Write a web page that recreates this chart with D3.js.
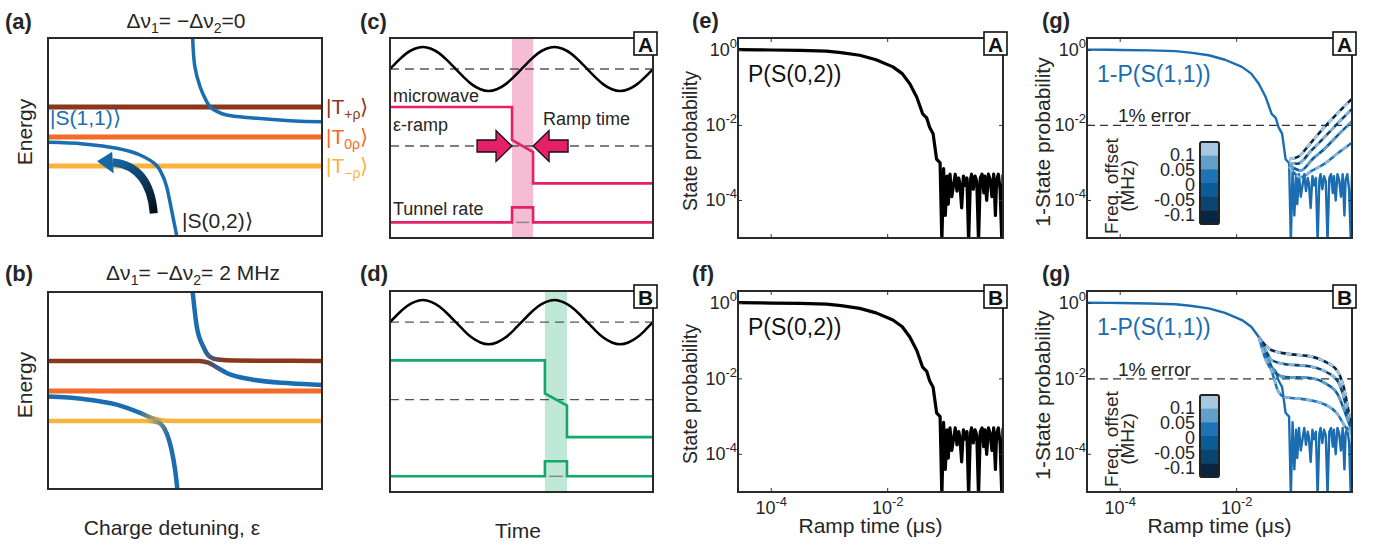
<!DOCTYPE html>
<html><head><meta charset="utf-8">
<script src="https://cdn.jsdelivr.net/npm/d3@7"></script>
<style>body{margin:0;background:#fff}svg text{font-family:"Liberation Sans",Arial,Helvetica,sans-serif}</style>
</head><body><svg id="c" width="1378" height="546"></svg>
<script>
// ---------------- DATA ----------------
// (a)/(b) energy diagram (x: detuning 0..1, y: energy 0..1)
const levelLabels = [["|T","+ρ","⟩"],["|T","0ρ","⟩"],["|T","−ρ","⟩"]];
const levelColors = ["#8a371b","#f26b27","#fbb33c"];
const levelsA = [0.652, 0.500, 0.354];
const levelsB = [0.650, 0.497, 0.345];
const upperBranchA = [[0.528,1.0],[0.536,0.855],[0.555,0.754],[0.575,0.69],[0.591,0.653],[0.62,0.627],[0.652,0.611],[0.748,0.596],[0.883,0.582],[1.0,0.577]];
const lowerBranchA = [[0,0.473],[0.129,0.465],[0.251,0.443],[0.336,0.409],[0.397,0.355],[0.42,0.30],[0.433,0.249],[0.451,0.131],[0.470,0.0]];
const upperBlueToBrownB = [[0.528,1.0],[0.543,0.824],[0.567,0.722],[0.59,0.672],[0.62,0.657],[0.68,0.652],[1.0,0.650]];
const brownToBlueB = [[0,0.650],[0.55,0.650],[0.585,0.641],[0.62,0.614],[0.652,0.589],[0.748,0.555],[0.883,0.537],[1.0,0.528]];
const blueToYellowB = [[0,0.469],[0.129,0.457],[0.251,0.428],[0.336,0.386],[0.38,0.360],[0.42,0.348],[0.5,0.345],[1,0.345]];
const yellowToBlueB = [[0,0.345],[0.36,0.345],[0.40,0.338],[0.425,0.305],[0.44,0.255],[0.451,0.198],[0.464,0.096],[0.472,0]];
const arrowShaft = [[0.386,0.114],[0.372,0.352],[0.236,0.372]];
const arrowHead = [[0.179,0.378],[0.234,0.426],[0.240,0.316]];
// (c)/(d) pulse schematic
const mwSamples = [0,.38,.71,.92,1,.92,.71,.38,0,-.38,-.71,-.92,-1,-.92,-.71,-.38,0,.38,.71,.92,1,.92,.71,.38,0,-.38,-.71,-.92,-1,-.92,-.71,-.38,0];
const mwMid = 0.845, mwAmp = 0.11;
const rampLevels = [0.655, 0.49, 0.43, 0.273];
const rampDash = 0.46;
const tunnelLevels = [0.078, 0.153];
const bandC = [0.464, 0.544];
const bandD = [0.589, 0.673];
// (e)-(g) ramp-time data, log10 values
const declineLogT = [-4.57,-4.2,-4.0,-3.5,-3.05,-2.8,-2.48,-2.2,-1.91,-1.75,-1.62,-1.50,-1.40,-1.33,-1.28,-1.22,-1.16];
const declineLogP = [0.02,0.015,0.01,0.0,-0.02,-0.06,-0.13,-0.25,-0.44,-0.62,-0.89,-1.25,-1.69,-1.80,-2.05,-2.22,-2.9];
const noiseLogT = [-1.10,-1.07,-1.04,-1.01,-0.98,-0.96,-0.93,-0.90,-0.87,-0.84,-0.81,-0.78,-0.76,-0.73,-0.70,-0.67,-0.64,-0.61,-0.58,-0.56,-0.53,-0.50,-0.47,-0.44,-0.41,-0.38,-0.35,-0.33,-0.30,-0.27,-0.24,-0.21,-0.18,-0.15,-0.13,-0.10,-0.07,-0.04,-0.02];
const noiseLogP = [-3.0,-5.1,-3.15,-4.4,-3.35,-4.1,-3.3,-3.9,-3.6,-3.3,-3.75,-3.4,-3.55,-4.2,-3.35,-3.6,-3.4,-5.1,-3.45,-3.3,-3.7,-3.35,-3.5,-5.1,-3.4,-3.3,-3.8,-3.35,-4.0,-3.3,-3.45,-3.9,-3.3,-4.4,-3.45,-3.3,-3.7,-5.1,-3.3];
const offsetCurvesA = [
  [[-1.10,-2.9],[-0.95,-2.84],[-0.72,-2.45],[-0.49,-2.04],[-0.27,-1.68],[-0.02,-1.29]],
  [[-1.10,-3.0],[-0.95,-3.02],[-0.72,-2.67],[-0.49,-2.31],[-0.27,-1.95],[-0.02,-1.56]],
  [[-1.10,-3.05],[-0.90,-3.2],[-0.70,-2.9],[-0.49,-2.62],[-0.27,-2.27],[-0.02,-1.89]],
  [[-1.10,-3.1],[-0.90,-3.38],[-0.70,-3.2],[-0.49,-3.02],[-0.27,-2.75],[-0.02,-2.46]]
];
const offsetCurvesB = [
  [[-1.62,-0.89],[-1.50,-1.12],[-1.40,-1.24],[-1.06,-1.35],[-0.78,-1.39],[-0.50,-1.53],[-0.27,-1.79],[-0.16,-2.23],[-0.07,-2.93],[-0.02,-3.3]],
  [[-1.62,-0.89],[-1.50,-1.25],[-1.40,-1.50],[-1.17,-1.61],[-0.78,-1.66],[-0.50,-1.79],[-0.27,-2.05],[-0.13,-2.67],[-0.07,-3.1],[-0.02,-3.35]],
  [[-1.62,-0.89],[-1.50,-1.35],[-1.34,-1.83],[-1.17,-1.95],[-0.78,-1.97],[-0.50,-2.10],[-0.27,-2.40],[-0.13,-2.93],[-0.02,-3.4]],
  [[-1.62,-0.89],[-1.50,-1.50],[-1.40,-1.79],[-1.29,-2.32],[-1.17,-2.49],[-0.89,-2.53],[-0.50,-2.67],[-0.27,-2.93],[-0.13,-3.28],[-0.02,-3.46]]
];
const offsetPairColors = [["#08263f","#a6c8e1"],["#0a4572","#8ab6d9"],["#0b5d99","#62a0cc"],["#1d73b3","#8ab6d9"]];
const cbColors = ["#a6c8e1","#62a0cc","#1d73b3","#0b5d99","#0a4572","#08263f"];
const cbLabels = ["0.1","0.05","0","-0.05","-0.1"];
const yTickExps = [0,-2,-4];
const xTickExps = [-4,-2];
const errorLevel = 0.01;

// ---------------- DRAW ----------------
const svg = d3.select("#c");
const TXT = "#262626";
const blue = "#1a6db0";
const defs = svg.append("defs");

function frame(x0,y0,x1,y1){
  svg.append("rect").attr("x",x0).attr("y",y0).attr("width",x1-x0).attr("height",y1-y0)
    .attr("fill","none").attr("stroke","#2a2a2a").attr("stroke-width",2);
}
function panelLabel(x,y,t){
  svg.append("text").attr("x",x).attr("y",y).attr("font-size",22).attr("font-weight","bold").attr("fill",TXT).text(t);
}
function letterBox(xr,yt,t){
  svg.append("rect").attr("x",xr-19).attr("y",yt-6).attr("width",23).attr("height",23)
    .attr("fill","#fff").attr("stroke","#111").attr("stroke-width",1.6);
  svg.append("text").attr("x",xr-7.5).attr("y",yt+14).attr("text-anchor","middle")
    .attr("font-size",21).attr("font-weight","bold").attr("fill","#111").text(t);
}
function rotLabel(x,y,t,size){
  svg.append("text").attr("transform",`translate(${x},${y}) rotate(-90)`).attr("text-anchor","middle")
    .attr("font-size",size||21).attr("fill",TXT).text(t);
}
let gid=0;
function gradPath(g, pts, sx, sy, cA, cB, xa, xb, width){
  const id="g"+(gid++);
  const lg=defs.append("linearGradient").attr("id",id).attr("gradientUnits","userSpaceOnUse")
    .attr("x1",sx(xa)).attr("x2",sx(xb)).attr("y1",0).attr("y2",0);
  lg.append("stop").attr("offset",0).attr("stop-color",cA);
  lg.append("stop").attr("offset",1).attr("stop-color",cB);
  const line=d3.line().x(d=>sx(d[0])).y(d=>sy(d[1])).curve(d3.curveMonotoneX);
  g.append("path").attr("d",line(pts)).attr("fill","none").attr("stroke",`url(#${id})`).attr("stroke-width",width).attr("stroke-linecap","butt");
}
function titleText(x,y,parts){
  const t=svg.append("text").attr("x",x).attr("y",y).attr("text-anchor","middle").attr("font-size",21).attr("fill",TXT);
  let shift=0;
  parts.forEach(p=>{
    if(p.sub){ t.append("tspan").attr("font-size",14).attr("dy",5-shift).text(p.sub); shift=5; }
    else { t.append("tspan").attr("dy",-shift).text(p.t); shift=0; }
  });
}

// ---- (a) and (b)
const xE = d3.scaleLinear().domain([0,1]).range([48,322]);
const yEa = d3.scaleLinear().domain([0,1]).range([236,38]);
const yEb = d3.scaleLinear().domain([0,1]).range([489,292]);
const lineE = (sy)=>d3.line().x(d=>xE(d[0])).y(d=>sy(d[1])).curve(d3.curveCatmullRom);

// (a)
const ga = svg.append("g");
levelsA.forEach((l,i)=>{
  ga.append("line").attr("x1",xE(0)).attr("x2",xE(1)).attr("y1",yEa(l)).attr("y2",yEa(l))
    .attr("stroke",levelColors[i]).attr("stroke-width",5);
  const t=svg.append("text").attr("x",xE(1)+4).attr("y",yEa(l)+7).attr("font-size",21).attr("fill",levelColors[i]);
  t.append("tspan").text(levelLabels[i][0]);
  t.append("tspan").attr("font-size",14).attr("dy",5).text(levelLabels[i][1]);
  t.append("tspan").attr("dy",-5).text(levelLabels[i][2]);
});
[upperBranchA, lowerBranchA].forEach(b=>{
  ga.append("path").attr("d",lineE(yEa)(b)).attr("fill","none").attr("stroke",blue).attr("stroke-width",3.5);
});
// arrow
{
  const id="arrG";
  const p0=arrowShaft[0], p2=arrowShaft[2];
  const lg=defs.append("linearGradient").attr("id",id).attr("gradientUnits","userSpaceOnUse")
    .attr("x1",xE(p0[0])).attr("y1",yEa(p0[1])).attr("x2",xE(p2[0])).attr("y2",yEa(p2[1]));
  lg.append("stop").attr("offset",0).attr("stop-color","#050e18");
  lg.append("stop").attr("offset",1).attr("stop-color","#1766a6");
  const p1=arrowShaft[1];
  ga.append("path").attr("d",`M${xE(p0[0])},${yEa(p0[1])} Q${xE(p1[0])},${yEa(p1[1])} ${xE(p2[0])},${yEa(p2[1])}`)
    .attr("fill","none").attr("stroke",`url(#${id})`).attr("stroke-width",8);
  ga.append("polygon").attr("points",arrowHead.map(d=>[xE(d[0]),yEa(d[1])].join(",")).join(" ")).attr("fill","#1766a6");
}
svg.append("text").attr("x",50).attr("y",125).attr("font-size",21).attr("fill",blue).text("|S(1,1)⟩");
svg.append("text").attr("x",182).attr("y",228).attr("font-size",21).attr("fill",TXT).text("|S(0,2)⟩");
frame(48,38,322,236);
titleText(186,28,[{t:"Δν"},{sub:"1"},{t:"= −Δν"},{sub:"2"},{t:"=0"}]);
panelLabel(5,29,"(a)");
rotLabel(32,132,"Energy");

// (b)
const gb = svg.append("g");
gb.append("line").attr("x1",xE(0)).attr("x2",xE(1)).attr("y1",yEb(levelsB[1])).attr("y2",yEb(levelsB[1]))
  .attr("stroke",levelColors[1]).attr("stroke-width",5);
gradPath(gb, brownToBlueB, xE, yEb, levelColors[0], blue, 0.56, 0.64, 4.5);
gradPath(gb, upperBlueToBrownB, xE, yEb, blue, levelColors[0], 0.565, 0.64, 4.5);
gradPath(gb, blueToYellowB, xE, yEb, blue, levelColors[2], 0.33, 0.42, 4.5);
gradPath(gb, yellowToBlueB, xE, yEb, levelColors[2], blue, 0.36, 0.44, 4.5);
frame(48,292,322,489);
titleText(193,280,[{t:"Δν"},{sub:"1"},{t:"= −Δν"},{sub:"2"},{t:"= 2 MHz"}]);
panelLabel(5,281,"(b)");
rotLabel(32,385,"Energy");
svg.append("text").attr("x",172).attr("y",535).attr("text-anchor","middle").attr("font-size",21).attr("fill",TXT).text("Charge detuning, ε");

// ---- (c) and (d)
const xT = d3.scaleLinear().domain([0,1]).range([390,653]);
const xMw = d3.scaleLinear().domain([0,mwSamples.length-1]).range([390,653]);
function pulsePanel(sy, band, col, bandCol, y0, y1, letter, withText){
  const g=svg.append("g");
  g.append("rect").attr("x",xT(band[0])).attr("y",y0).attr("width",xT(band[1])-xT(band[0])).attr("height",y1-y0).attr("fill",bandCol);
  [mwMid, rampDash].forEach(v=>{
    g.append("line").attr("x1",xT(0)).attr("x2",xT(1)).attr("y1",sy(v)).attr("y2",sy(v))
      .attr("stroke","#555").attr("stroke-width",1.3).attr("stroke-dasharray","9,6");
  });
  g.append("line").attr("x1",xT(band[0])+4).attr("x2",xT(band[1])-4).attr("y1",sy(tunnelLevels[0])).attr("y2",sy(tunnelLevels[0]))
    .attr("stroke","#888").attr("stroke-width",1.5);
  const mwLine=d3.line().x((d,i)=>xMw(i)).y(d=>sy(mwMid+mwAmp*d)).curve(d3.curveNatural);
  g.append("path").attr("d",mwLine(mwSamples)).attr("fill","none").attr("stroke","#000").attr("stroke-width",2.5);
  const ramp=[[0,rampLevels[0]],[band[0],rampLevels[0]],[band[0],rampLevels[1]],[band[1],rampLevels[2]],[band[1],rampLevels[3]],[1,rampLevels[3]]];
  const tun=[[0,tunnelLevels[0]],[band[0],tunnelLevels[0]],[band[0],tunnelLevels[1]],[band[1],tunnelLevels[1]],[band[1],tunnelLevels[0]],[1,tunnelLevels[0]]];
  const ln=d3.line().x(d=>xT(d[0])).y(d=>sy(d[1]));
  [ramp,tun].forEach(p=>g.append("path").attr("d",ln(p)).attr("fill","none").attr("stroke",col).attr("stroke-width",2.6));
  if(withText){
    const tx=(t,x,y)=>svg.append("text").attr("x",x).attr("y",y).attr("font-size",18).attr("fill",TXT).text(t);
    tx("microwave",393,102); tx("ε-ramp",393,131); tx("Ramp time",543,125); tx("Tunnel rate",393,215);
    const ty=sy(rampDash);
    const L=xT(band[0]), R=xT(band[1]);
    const right=[[L,ty],[L-16,ty-15.5],[L-16,ty-6],[L-35,ty-6],[L-35,ty+6],[L-16,ty+6],[L-16,ty+15.5]];
    const left=[[R,ty],[R+16,ty-15.5],[R+16,ty-6],[R+35,ty-6],[R+35,ty+6],[R+16,ty+6],[R+16,ty+15.5]];
    [right,left].forEach(p=>svg.append("polygon").attr("points",p.map(d=>d.join(",")).join(" "))
      .attr("fill","#e61f69").attr("stroke","#111").attr("stroke-width",1.3).attr("stroke-linejoin","miter"));
  }
  frame(390,y0,653,y1);
  letterBox(653,y0,letter);
}
pulsePanel(d3.scaleLinear().domain([0,1]).range([238,38]), bandC, "#e61f69", "#f5bcd4", 38, 238, "A", true);
pulsePanel(d3.scaleLinear().domain([0,1]).range([492,291]), bandD, "#14a86a", "#bfe8d6", 291, 492, "B", false);
panelLabel(360,29,"(c)");
panelLabel(360,281,"(d)");
svg.append("text").attr("x",518).attr("y",538).attr("text-anchor","middle").attr("font-size",21).attr("fill",TXT).text("Time");

// ---- (e),(f),(g)
const mainSeries = declineLogT.map((t,i)=>[t,declineLogP[i]]).concat(noiseLogT.map((t,i)=>[t,noiseLogP[i]]));
function pow10Label(sel, exp){
  sel.append("tspan").text("10");
  sel.append("tspan").attr("dy",-8).attr("font-size",13).text(exp);
}
function logPanel(x0,x1,y0,y1,opts){
  const sx=d3.scaleLog().domain([Math.pow(10,-4.57),Math.pow(10,-0.02)]).range([x0,x1]);
  const sy=d3.scaleLog().domain([1e-5,Math.pow(10,0.33)]).range([y1,y0]);
  const cid="clip"+(gid++);
  defs.append("clipPath").attr("id",cid).append("rect").attr("x",x0).attr("y",y0).attr("width",x1-x0).attr("height",y1-y0);
  const g=svg.append("g");
  const pg=g.append("g").attr("clip-path",`url(#${cid})`);
  const ln=d3.line().x(d=>sx(Math.pow(10,d[0]))).y(d=>sy(Math.pow(10,d[1])));
  if(opts.error){
    pg.append("line").attr("x1",x0).attr("x2",x1).attr("y1",sy(errorLevel)).attr("y2",sy(errorLevel))
      .attr("stroke","#333").attr("stroke-width",1.2).attr("stroke-dasharray","8,5");
  }
  pg.append("path").attr("d",ln(mainSeries)).attr("fill","none").attr("stroke",opts.color).attr("stroke-width",opts.width).attr("stroke-linejoin","round");
  if(opts.curves){
    const lc=d3.line().x(d=>sx(Math.pow(10,d[0]))).y(d=>sy(Math.pow(10,d[1]))).curve(d3.curveMonotoneX);
    opts.curves.forEach((c,i)=>{
      pg.append("path").attr("d",lc(c)).attr("fill","none").attr("stroke",offsetPairColors[i][0]).attr("stroke-width",2.6);
      pg.append("path").attr("d",lc(c)).attr("fill","none").attr("stroke",offsetPairColors[i][1]).attr("stroke-width",2.6).attr("stroke-dasharray","6,5");
    });
  }
  yTickExps.forEach(e=>{
    const y=sy(Math.pow(10,e));
    g.append("line").attr("x1",x0).attr("x2",x0+4).attr("y1",y).attr("y2",y).attr("stroke","#333");
    g.append("line").attr("x1",x1).attr("x2",x1-4).attr("y1",y).attr("y2",y).attr("stroke","#333");
    const t=g.append("text").attr("x",x0-1).attr("y",y+6).attr("text-anchor","end").attr("font-size",18).attr("fill",TXT);
    pow10Label(t,String(e));
  });
  xTickExps.forEach(e=>{
    const x=sx(Math.pow(10,e));
    g.append("line").attr("x1",x).attr("x2",x).attr("y1",y1).attr("y2",y1-4).attr("stroke","#333");
    g.append("line").attr("x1",x).attr("x2",x).attr("y1",y0).attr("y2",y0+4).attr("stroke","#333");
    if(opts.xlabels){
      const t=g.append("text").attr("x",x).attr("y",y1+22).attr("text-anchor","middle").attr("font-size",18).attr("fill",TXT);
      pow10Label(t,String(e));
    }
  });
  frame(x0,y0,x1,y1);
  letterBox(x1,y0,opts.letter);
  svg.append("text").attr("x",x0+10).attr("y",y0+44).attr("font-size",23).attr("fill",opts.color==="#000"?"#111":blue).text(opts.name);
  if(opts.error){
    svg.append("text").attr("x",x0+31).attr("y",sy(errorLevel)-3).attr("font-size",19).attr("fill",TXT).text("1% error");
    const cbx=x0+113, cby=y0+104, cbw=19, cbh=82;
    const seg=cbh/cbColors.length;
    cbColors.forEach((c,i)=>svg.append("rect").attr("x",cbx).attr("y",cby+i*seg).attr("width",cbw).attr("height",seg+0.5).attr("fill",c));
    svg.append("rect").attr("x",cbx).attr("y",cby).attr("width",cbw).attr("height",cbh).attr("rx",2)
      .attr("fill","none").attr("stroke","#222").attr("stroke-width",2);
    const ly=d3.scalePoint().domain(cbLabels).range([cby+19,cby+79]);
    cbLabels.forEach(l=>svg.append("text").attr("x",cbx-5).attr("y",ly(l)).attr("text-anchor","end").attr("font-size",18).attr("fill",TXT).text(l));
    rotLabel(x0+31,cby+44,"Freq. offset",19);
    rotLabel(x0+47,cby+44,"(MHz)",19);
  }
  if(opts.xlabels){
    svg.append("text").attr("x",(x0+x1)/2).attr("y",y1+41).attr("text-anchor","middle").attr("font-size",21).attr("fill",TXT).text("Ramp time (μs)");
  }
}
logPanel(738,1003,38,238,{color:"#000",width:3.2,letter:"A",name:"P(S(0,2))"});
logPanel(738,1003,291,492,{color:"#000",width:3.2,letter:"B",name:"P(S(0,2))",xlabels:true});
logPanel(1087,1352,38,238,{color:blue,width:2.4,letter:"A",name:"1-P(S(1,1))",error:true,curves:offsetCurvesA});
logPanel(1087,1352,291,492,{color:blue,width:2.4,letter:"B",name:"1-P(S(1,1))",error:true,curves:offsetCurvesB,xlabels:true});
rotLabel(697,141,"State probability",19.5);
rotLabel(697,394,"State probability",19.5);
rotLabel(1050,142,"1-State probability",21);
rotLabel(1050,395,"1-State probability",21);
panelLabel(692,28,"(e)");
panelLabel(692,281,"(f)");
panelLabel(1042,28,"(g)");
panelLabel(1042,281,"(g)");
</script></body></html>
